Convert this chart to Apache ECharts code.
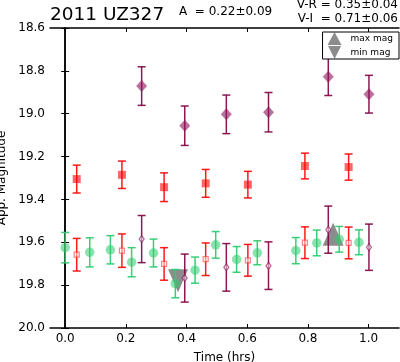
<!DOCTYPE html>
<html>
<head>
<meta charset="utf-8">
<script src="https://cdn.jsdelivr.net/npm/echarts@6/dist/echarts.min.js"></script>
<style>html,body{margin:0;padding:0;background:#fff}#c{width:400px;height:362px}</style>
</head>
<body>
<div id="c"></div>
<script>
// ---- data ----
const xTicks = [0.0, 0.2, 0.4, 0.6, 0.8, 1.0];
// V band (green circles)
const timeV = [0.000, 0.081, 0.149, 0.219, 0.291, 0.363, 0.428, 0.496, 0.565, 0.633, 0.760, 0.829, 0.903, 0.968];
const magV  = [19.625, 19.647, 19.635, 19.693, 19.650, 19.793, 19.730, 19.612, 19.680, 19.649, 19.639, 19.603, 19.586, 19.600];
const errV  = [0.071, 0.068, 0.066, 0.068, 0.065, 0.066, 0.061, 0.062, 0.060, 0.056, 0.061, 0.060, 0.060, 0.058];
// R band (red filled squares)
const timeR = [0.038, 0.187, 0.326, 0.463, 0.602, 0.790, 0.934];
const magR  = [19.305, 19.285, 19.343, 19.325, 19.331, 19.244, 19.249];
const errR  = [0.065, 0.064, 0.067, 0.065, 0.062, 0.060, 0.061];
// R shifted by V-R (red open squares)
const magRs = [19.658, 19.639, 19.701, 19.679, 19.684, 19.602, 19.603];
const errRs = [0.076, 0.078, 0.076, 0.076, 0.074, 0.074, 0.074];
// I band (purple filled diamonds)
const timeI = [0.252, 0.394, 0.531, 0.670, 0.867, 1.001];
const magI  = [18.871, 19.056, 19.003, 18.993, 18.827, 18.909];
const errI  = [0.090, 0.092, 0.090, 0.092, 0.088, 0.088];
// I shifted by V-I (purple open diamonds)
const magIs = [19.585, 19.767, 19.717, 19.709, 19.541, 19.623];
const errIs = [0.110, 0.112, 0.111, 0.111, 0.110, 0.108];
// extrema
const maxMag = [[0.883, 19.563]];
const minMag = [[0.372, 19.780]];

const FONT = 'DejaVu Sans';

function errSeries(xs, ys, es, color, z) {
  return {
    type: 'custom', silent: true, z: z,
    data: xs.map((x, i) => [x, ys[i], es[i]]),
    encode: { x: 0, y: 1 },
    renderItem: function (params, api) {
      const x = api.value(0), y = api.value(1), e = api.value(2);
      const p1 = api.coord([x, y - e]), p2 = api.coord([x, y + e]);
      const cw = 4;
      const st = { stroke: color, lineWidth: 1.5 };
      return { type: 'group', children: [
        { type: 'line', shape: { x1: p1[0], y1: p1[1], x2: p2[0], y2: p2[1] }, style: st },
        { type: 'line', shape: { x1: p1[0] - cw, y1: p1[1], x2: p1[0] + cw, y2: p1[1] }, style: st },
        { type: 'line', shape: { x1: p2[0] - cw, y1: p2[1], x2: p2[0] + cw, y2: p2[1] }, style: st }
      ]};
    }
  };
}
function pts(xs, ys) { return xs.map((x, i) => [x, ys[i]]); }

const axisLine = { show: true, lineStyle: { color: '#000', width: 1.5 } };
const tick = { show: true, inside: true, length: 4, lineStyle: { color: '#000', width: 1 } };

const chart = echarts.init(document.getElementById('c'), null, { renderer: 'canvas' });
chart.setOption({
  animation: false,
  backgroundColor: '#fff',
  textStyle: { fontFamily: FONT },
  grid: { left: 50, top: 28, width: 349, height: 300, containLabel: false, outerBoundsMode: 'none' },
  legend: {
    right: 1, top: 32, orient: 'vertical',
    data: [
      { name: 'max mag', icon: 'triangle' },
      { name: 'min mag', icon: 'path://M0,0L10,0L5,10Z' }
    ],
    itemWidth: 14, itemHeight: 13, itemGap: 1,
    padding: [0, 6, 0, 5],
    borderColor: '#000', borderWidth: 1, backgroundColor: '#fff',
    textStyle: { fontFamily: FONT, fontSize: 9, color: '#000', padding: [0, 0, 0, 4] }
  },
  xAxis: [
    { type: 'value', min: -0.05, max: 1.1, position: 'bottom',
      axisLine: axisLine, splitLine: { show: false },
      axisTick: Object.assign({ customValues: xTicks }, tick),
      axisLabel: { customValues: xTicks, formatter: v => v.toFixed(1), fontSize: 12, color: '#000', fontFamily: FONT, margin: 5 },
      name: 'Time (hrs)', nameLocation: 'middle', nameGap: 24,
      nameTextStyle: { fontSize: 12, color: '#000', fontFamily: FONT } },
    { type: 'value', min: -0.05, max: 1.1, position: 'top',
      axisLine: axisLine, splitLine: { show: false },
      axisTick: Object.assign({ customValues: xTicks }, tick),
      axisLabel: { show: false } }
  ],
  yAxis: [
    { type: 'value', min: 18.6, max: 20.0, interval: 0.2, inverse: true, position: 'left',
      axisLine: axisLine, splitLine: { show: false }, axisTick: tick,
      axisLabel: { formatter: v => v.toFixed(1), fontSize: 12, color: '#000', fontFamily: FONT, margin: 5 },
      name: 'App. Magnitude', nameLocation: 'middle', nameGap: 42, nameRotate: 90,
      nameTextStyle: { fontSize: 12, color: '#000', fontFamily: FONT } },
    { type: 'value', min: 18.6, max: 20.0, interval: 0.2, inverse: true, position: 'right',
      axisLine: axisLine, splitLine: { show: false }, axisTick: tick,
      axisLabel: { show: false } }
  ],
  graphic: [
    { type: 'text', left: 50, top: 6, style: { text: '2011 UZ327', font: '18.5px "DejaVu Sans"', fill: '#000' } },
    { type: 'text', left: 179, top: 6, style: { text: 'A  = 0.22\u00b10.09', font: '12px "DejaVu Sans"', fill: '#000' } },
    { type: 'text', right: 2, top: -1, style: { text: 'V-R = 0.35\u00b10.04', font: '12px "DejaVu Sans"', fill: '#000' } },
    { type: 'text', right: 2, top: 13, style: { text: 'V-I  = 0.71\u00b10.06', font: '12px "DejaVu Sans"', fill: '#000' } }
  ],
  series: [
    { name: 'max mag', type: 'scatter', z: 1, symbol: 'triangle', symbolSize: [21, 23],
      data: maxMag, itemStyle: { color: 'rgba(50,50,50,0.7)' } },
    { name: 'min mag', type: 'scatter', z: 1, symbol: 'path://M0,0L10,0L5,10Z', symbolSize: [20, 23],
      data: minMag, itemStyle: { color: 'rgba(50,50,50,0.7)' } },

    errSeries(timeV, magV, errV, 'rgba(46,204,113,0.95)', 2),
    { type: 'scatter', z: 3, symbol: 'circle', symbolSize: 9.5, data: pts(timeV, magV),
      itemStyle: { color: 'rgba(46,204,113,0.7)' } },

    errSeries(timeR, magR, errR, 'rgba(255,0,0,0.9)', 2),
    { type: 'scatter', z: 3, symbol: 'rect', symbolSize: 8, data: pts(timeR, magR),
      itemStyle: { color: 'rgba(255,0,0,0.75)' } },
    errSeries(timeR, magRs, errRs, 'rgba(255,0,0,0.9)', 2),
    { type: 'scatter', z: 3, symbol: 'rect', symbolSize: 5, data: pts(timeR, magRs),
      itemStyle: { color: 'rgba(255,255,255,0.6)', borderColor: 'rgba(255,60,60,0.8)', borderWidth: 1.2 } },

    errSeries(timeI, magI, errI, 'rgba(128,0,64,0.9)', 2),
    { type: 'scatter', z: 3, symbol: 'diamond', symbolSize: [11, 12], data: pts(timeI, magI),
      itemStyle: { color: 'rgba(140,20,90,0.75)' } },
    errSeries(timeI, magIs, errIs, 'rgba(128,0,64,0.9)', 2),
    { type: 'scatter', z: 3, symbol: 'diamond', symbolSize: [5, 7], data: pts(timeI, magIs),
      itemStyle: { color: 'rgba(255,255,255,0.6)', borderColor: 'rgba(140,20,90,0.85)', borderWidth: 1.2 } }
  ]
});
</script>
</body>
</html>
